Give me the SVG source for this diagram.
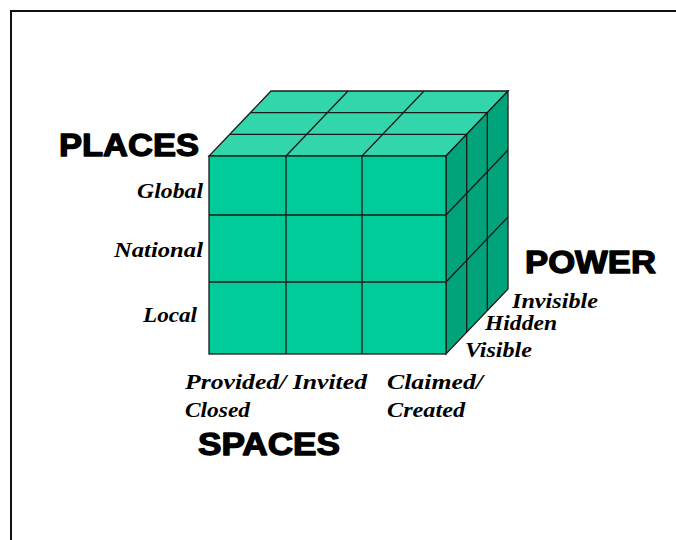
<svg xmlns="http://www.w3.org/2000/svg" width="676" height="540" viewBox="0 0 676 540">
<style>
.title{font-family:"Liberation Sans",Arial,sans-serif;font-weight:900;font-size:31px;fill:#000;stroke:#000;stroke-width:1.3;stroke-linejoin:round}
.lab{font-family:"Liberation Serif","Times New Roman",serif;font-weight:bold;font-style:italic;font-size:21px;fill:#000}
.front{fill:#00CC99;stroke:#1a1a1a;stroke-width:1.3}
.top{fill:#33D6AA;stroke:#1a1a1a;stroke-width:1.3}
.side{fill:#00A37A;stroke:#1a1a1a;stroke-width:1.3}
.ln{stroke:#1a1a1a;stroke-width:1.3;fill:none}
</style>
<rect width="676" height="540" fill="#fff"/>
<path d="M11 540 V11 H676" fill="none" stroke="#111" stroke-width="2"/>
<g id="cube">
  <polygon class="top" points="209,156 446,156 508,91 271,91"/>
  <polygon class="side" points="446,156 508,91 508,289 446,354"/>
  <rect class="front" x="209" y="156" width="237" height="198"/>
  <g id="grid">
    <line class="ln" x1="229.7" y1="134.3" x2="466.7" y2="134.3"/>
    <line class="ln" x1="250.3" y1="112.7" x2="487.3" y2="112.7"/>
    <line class="ln" x1="286" y1="156" x2="348" y2="91"/>
    <line class="ln" x1="362" y1="156" x2="424" y2="91"/>
    <line class="ln" x1="466.7" y1="134.3" x2="466.7" y2="332.3"/>
    <line class="ln" x1="487.3" y1="112.7" x2="487.3" y2="310.7"/>
    <line class="ln" x1="446" y1="215" x2="508" y2="150"/>
    <line class="ln" x1="446" y1="282" x2="508" y2="217"/>
    <line class="ln" x1="286" y1="156" x2="286" y2="354"/>
    <line class="ln" x1="362" y1="156" x2="362" y2="354"/>
    <line class="ln" x1="209" y1="215" x2="446" y2="215"/>
    <line class="ln" x1="209" y1="282" x2="446" y2="282"/>
  </g>
</g>
<g id="places">
  <text class="title" x="59" y="156" textLength="140" lengthAdjust="spacingAndGlyphs">PLACES</text>
  <text class="lab" x="137" y="198" textLength="66" lengthAdjust="spacingAndGlyphs">Global</text>
  <text class="lab" x="114" y="257" textLength="89" lengthAdjust="spacingAndGlyphs">National</text>
  <text class="lab" x="143" y="322" textLength="54" lengthAdjust="spacingAndGlyphs">Local</text>
</g>
<g id="spaces">
  <text class="lab" x="185" y="389" textLength="182" lengthAdjust="spacingAndGlyphs">Provided/ Invited</text>
  <text class="lab" x="387" y="389" textLength="96" lengthAdjust="spacingAndGlyphs">Claimed/</text>
  <text class="lab" x="185" y="417" textLength="65" lengthAdjust="spacingAndGlyphs">Closed</text>
  <text class="lab" x="387" y="417" textLength="78" lengthAdjust="spacingAndGlyphs">Created</text>
  <text class="title" x="198" y="455" textLength="142" lengthAdjust="spacingAndGlyphs">SPACES</text>
</g>
<g id="power">
  <text class="title" x="525" y="273" textLength="131" lengthAdjust="spacingAndGlyphs">POWER</text>
  <text class="lab" x="512" y="308" textLength="86" lengthAdjust="spacingAndGlyphs">Invisible</text>
  <text class="lab" x="485" y="330" textLength="72" lengthAdjust="spacingAndGlyphs">Hidden</text>
  <text class="lab" x="465" y="357" textLength="67" lengthAdjust="spacingAndGlyphs">Visible</text>
</g>
</svg>
